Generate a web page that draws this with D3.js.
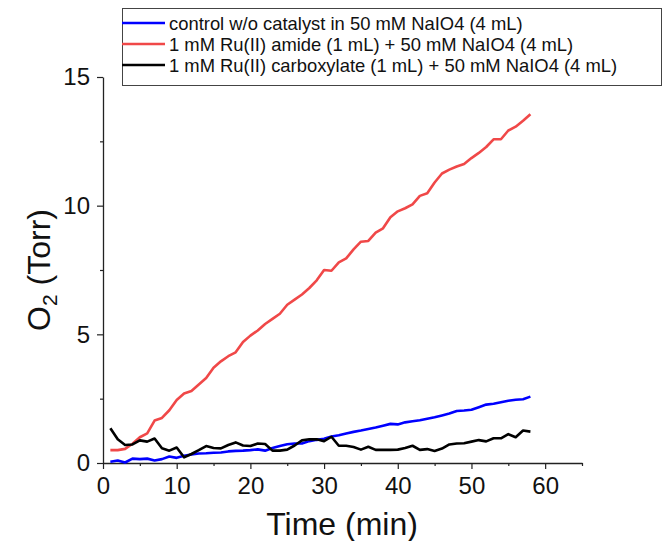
<!DOCTYPE html>
<html>
<head>
<meta charset="utf-8">
<style>
  *{margin:0;padding:0;box-sizing:border-box}
  body{background:#fff;width:664px;height:541px;overflow:hidden}
  svg{display:block;font-family:"Liberation Sans",Arial,sans-serif}
</style>
<script src="https://cdn.jsdelivr.net/npm/d3@7/dist/d3.min.js"></script>
</head>
<body>
<svg id="chart"></svg>
<script>
// time points (min)
const time = d3.range(1, 59);

const controlO2 = [0.05,0.10,0.02,0.17,0.15,0.17,0.10,0.15,0.25,0.20,
  0.28,0.33,0.37,0.38,0.40,0.41,0.45,0.47,0.48,0.50,
  0.53,0.48,0.58,0.66,0.73,0.76,0.76,0.85,0.90,0.94,
  1.03,1.08,1.15,1.21,1.26,1.32,1.38,1.45,1.52,1.50,
  1.58,1.62,1.66,1.72,1.78,1.85,1.92,2.02,2.04,2.07,
  2.17,2.27,2.30,2.36,2.42,2.46,2.48,2.58];

const amideO2 = [0.50,0.50,0.55,0.75,1.00,1.15,1.65,1.75,2.05,2.45,
  2.70,2.80,3.05,3.30,3.70,3.95,4.15,4.30,4.70,4.95,
  5.15,5.40,5.60,5.80,6.15,6.35,6.55,6.80,7.10,7.50,
  7.47,7.80,7.95,8.30,8.60,8.63,8.95,9.12,9.55,9.78,
  9.90,10.05,10.38,10.48,10.90,11.25,11.40,11.52,11.62,11.85,
  12.05,12.28,12.58,12.58,12.92,13.07,13.30,13.55];

const carboxylateO2 = [1.35,0.92,0.70,0.72,0.88,0.83,0.95,0.57,0.48,0.60,
  0.22,0.35,0.50,0.66,0.58,0.57,0.70,0.80,0.68,0.66,
  0.76,0.74,0.48,0.48,0.52,0.68,0.88,0.92,0.92,0.85,
  1.02,0.67,0.67,0.62,0.52,0.63,0.51,0.51,0.51,0.52,
  0.58,0.67,0.51,0.54,0.47,0.56,0.72,0.76,0.77,0.83,
  0.89,0.84,0.96,0.96,1.12,1.00,1.26,1.22];

const seriesNames = [
  'control w/o catalyst in 50 mM NaIO4 (4 mL)',
  '1 mM Ru(II) amide (1 mL) + 50 mM NaIO4 (4 mL)',
  '1 mM Ru(II) carboxylate (1 mL) + 50 mM NaIO4 (4 mL)'
];
const seriesColors = ['#0000ff', '#f04848', '#000000'];
const seriesValues = [controlO2, amideO2, carboxylateO2];

const xTicks = [0,10,20,30,40,50,60];
const yTicks = [0,5,10,15];

const W = 664, H = 541;
const margin = {left:103, right:82, top:77, bottom:78};

const svg = d3.select('#chart').attr('width', W).attr('height', H);

const x = d3.scaleLinear().domain([0, 65]).range([margin.left, W - margin.right]);
const y = d3.scaleLinear().domain([0, 15]).range([H - margin.bottom, margin.top]);

// axes
svg.append('g')
  .attr('transform', `translate(0,${H - margin.bottom})`)
  .call(d3.axisBottom(x).tickValues(xTicks).tickSize(6).tickSizeOuter(0).tickPadding(8));
const xMinor = svg.append('g')
  .attr('transform', `translate(0,${H - margin.bottom})`)
  .call(d3.axisBottom(x).tickValues([5,15,25,35,45,55,65]).tickSize(3).tickFormat(''));
xMinor.select('.domain').remove();

svg.append('g')
  .attr('transform', `translate(${margin.left},0)`)
  .call(d3.axisLeft(y).tickValues(yTicks).tickSize(6).tickSizeOuter(0).tickPadding(7));
const yMinor = svg.append('g')
  .attr('transform', `translate(${margin.left},0)`)
  .call(d3.axisLeft(y).tickValues([2.5,7.5,12.5]).tickSize(3).tickFormat(''));
yMinor.select('.domain').remove();

svg.selectAll('.domain').attr('stroke', '#222').attr('stroke-width', 1.3);
svg.selectAll('.tick line').attr('stroke', '#222').attr('stroke-width', 1.2);
svg.selectAll('.tick text').attr('font-size', 24).attr('fill', '#111')
  .attr('font-family', '"Liberation Sans",Arial,sans-serif');

// lines
const line = d3.line().x((d, i) => x(time[i])).y(d => y(d));
seriesValues.forEach((vals, k) => {
  svg.append('path')
    .datum(vals)
    .attr('d', line)
    .attr('fill', 'none')
    .attr('stroke', seriesColors[k])
    .attr('stroke-width', 2.6)
    .attr('stroke-linejoin', 'round');
});

// axis titles
svg.append('text')
  .attr('x', 342)
  .attr('y', 535)
  .attr('text-anchor', 'middle')
  .attr('font-size', 32)
  .attr('fill', '#111')
  .text('Time (min)');

const yt = svg.append('text')
  .attr('transform', `translate(50,${(margin.top + H - margin.bottom) / 2}) rotate(-90)`)
  .attr('text-anchor', 'middle')
  .attr('font-size', 32)
  .attr('fill', '#111');
yt.append('tspan').text('O');
yt.append('tspan').attr('font-size', 21).attr('dy', 7).text('2');
yt.append('tspan').attr('dy', -7).text(' (Torr)');

// legend
const lg = svg.append('g');
lg.append('rect')
  .attr('x', 122.5).attr('y', 8.5).attr('width', 539).attr('height', 77)
  .attr('fill', '#fff').attr('stroke', '#444').attr('stroke-width', 1);
seriesNames.forEach((name, k) => {
  const cy = 23 + k * 21;
  lg.append('line')
    .attr('x1', 122).attr('x2', 165).attr('y1', cy).attr('y2', cy)
    .attr('stroke', seriesColors[k]).attr('stroke-width', 2.6);
  lg.append('text')
    .attr('x', 169).attr('y', cy + 6.5)
    .attr('font-size', 18.4)
    .attr('fill', '#111')
    .text(name);
});
</script>
</body>
</html>
